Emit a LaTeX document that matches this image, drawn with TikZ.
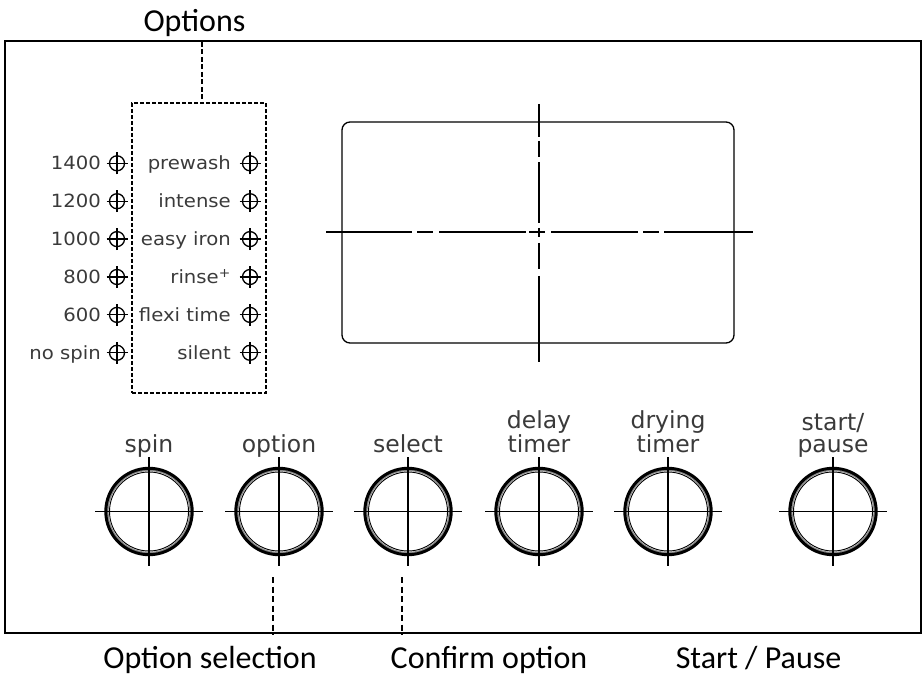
\documentclass[tikz,border=0pt]{standalone}
\usepackage{fontspec}
\setmainfont{Carlito}
\newfontfamily\panelfont[FakeStretch=1.08]{DejaVu Sans}
\newfontfamily\btnfont{DejaVu Sans}
\definecolor{ink}{HTML}{3A3A3A}
\begin{document}
\begin{tikzpicture}[x=1pt,y=-1pt,
  frame/.style={draw, line width=2.2pt},
  callout/.style={font=\fontsize{32}{38}\selectfont, inner sep=0pt, anchor=base},
  leader/.style={line width=1.8pt, dash pattern=on 5pt off 2.5pt},
  optframe/.style={draw, line width=1.3pt, dash pattern=on 4pt off 2pt, minimum width=134pt, minimum height=290pt, inner sep=0pt},
  display/.style={draw, line width=1.3pt, rounded corners=8pt, minimum width=392pt, minimum height=221pt, inner sep=0pt},
  centerline/.style={line width=1.3pt},
  knob/.style={circle, draw, line width=1.3pt, minimum size=15pt, inner sep=0pt},
  knobcross/.style={line width=1.2pt},
  knoblabel/.style={font=\panelfont\fontsize{18.2}{20}\selectfont, text=ink, inner sep=0pt, anchor=base east},
  btn/.style={circle, draw, line width=3pt, minimum size=86.4pt, inner sep=0pt},
  btngray/.style={circle, draw=black!45, line width=1.6pt, minimum size=82.4pt, inner sep=0pt},
  btninner/.style={circle, draw, line width=0.9pt, minimum size=79pt, inner sep=0pt},
  btncross/.style={line width=1.2pt},
  btnlabel/.style={font=\btnfont\fontsize{23.5}{22}\selectfont, text=ink, align=center, inner sep=0pt, anchor=base}
]
\useasboundingbox (0,0) rectangle (922,676);
% outer frame
\node[frame, minimum width=916pt, minimum height=592pt, inner sep=0pt] (panel) at (463,337) {};

% callouts
\node[callout] (lopt) at (194.5,31.7) {Options};
\node[callout] (lsel) at (210,668) {Option selection};
\node[callout] (lconf) at (489,668) {Confirm option};
\node[callout] (lstart) at (758.5,668) {Start / Pause};

% options box
\node[optframe] (optbox) at (199,248) {};
\coordinate (ot) at (202,42);
\draw[leader] (ot) -- (ot |- optbox.north);

% knob rows
\foreach \i/\yy/\la/\lb in {1/163.3/1400/prewash, 2/201.2/1200/intense, 3/239.1/1000/easy iron, 4/277/800/rinse\textsuperscript{+}, 5/314.9/600/flexi time, 6/352.8/no spin/silent}{
  \node[knob] (ka\i) at (117,\yy) {};
  \node[knob] (kb\i) at (250,\yy) {};
  \draw[knobcross] ([xshift=-10.5pt]ka\i.center) -- ([xshift=10.5pt]ka\i.center);
  \draw[knobcross] ([yshift=-11pt]ka\i.center) -- ([yshift=11pt]ka\i.center);
  \draw[knobcross] ([xshift=-10.5pt]kb\i.center) -- ([xshift=10.5pt]kb\i.center);
  \draw[knobcross] ([yshift=-11pt]kb\i.center) -- ([yshift=11pt]kb\i.center);
  \node[knoblabel] (ta\i) at (101,\yy+6.5) {\la};
  \node[knoblabel] (tb\i) at (231,\yy+6.5) {\lb};
}

% display
\node[display] (disp) at (538,232.5) {};
\draw[centerline] (326,232) -- (412,232) (417,232) -- (433,232) (439,232) -- (526,232)
  (529,232) -- (545,232) (551,232) -- (638,232) (643,232) -- (659,232) (664,232) -- (753,232);
\draw[centerline] (539,104) -- (539,137.5) (539,141) -- (539,157) (539,162.5) -- (539,223.5)
  (539,228) -- (539,237) (539,243) -- (539,269.5) (539,276) -- (539,362);

% buttons
\foreach \n/\xx in {1/149, 2/279, 3/408, 4/539, 5/668, 6/833}{
  \node[btngray] (g\n) at (\xx,511.5) {};
  \node[btn] (b\n) at (\xx,511.5) {};
  \node[btninner] (c\n) at (\xx,511.5) {};
  \draw[btncross] ([xshift=-54pt]b\n.center) -- ([xshift=54pt]b\n.center);
  \draw[btncross] ([yshift=-54pt]b\n.center) -- ([yshift=54pt]b\n.center);
}
\node[btnlabel] (tl1) at (149,452.7) {spin};
\node[btnlabel] (tl2) at (279,452.7) {option};
\node[btnlabel] (tl3) at (408,452.7) {select};
\node[btnlabel] (tl4) at (539,452.7) {delay\\timer};
\node[btnlabel] (tl5) at (668,452.7) {drying\\timer};
\node[btnlabel] (tl6) at (833,452.7) {start/\\pause};

% leaders below
\coordinate (sa) at (273,577);
\coordinate (sb) at (402,577);
\draw[leader, dash pattern=on 6pt off 3.5pt] (sa) -- (sa |- panel.south);
\draw[leader, dash pattern=on 6pt off 3.5pt] (sb) -- (sb |- panel.south);
\end{tikzpicture}
\end{document}
